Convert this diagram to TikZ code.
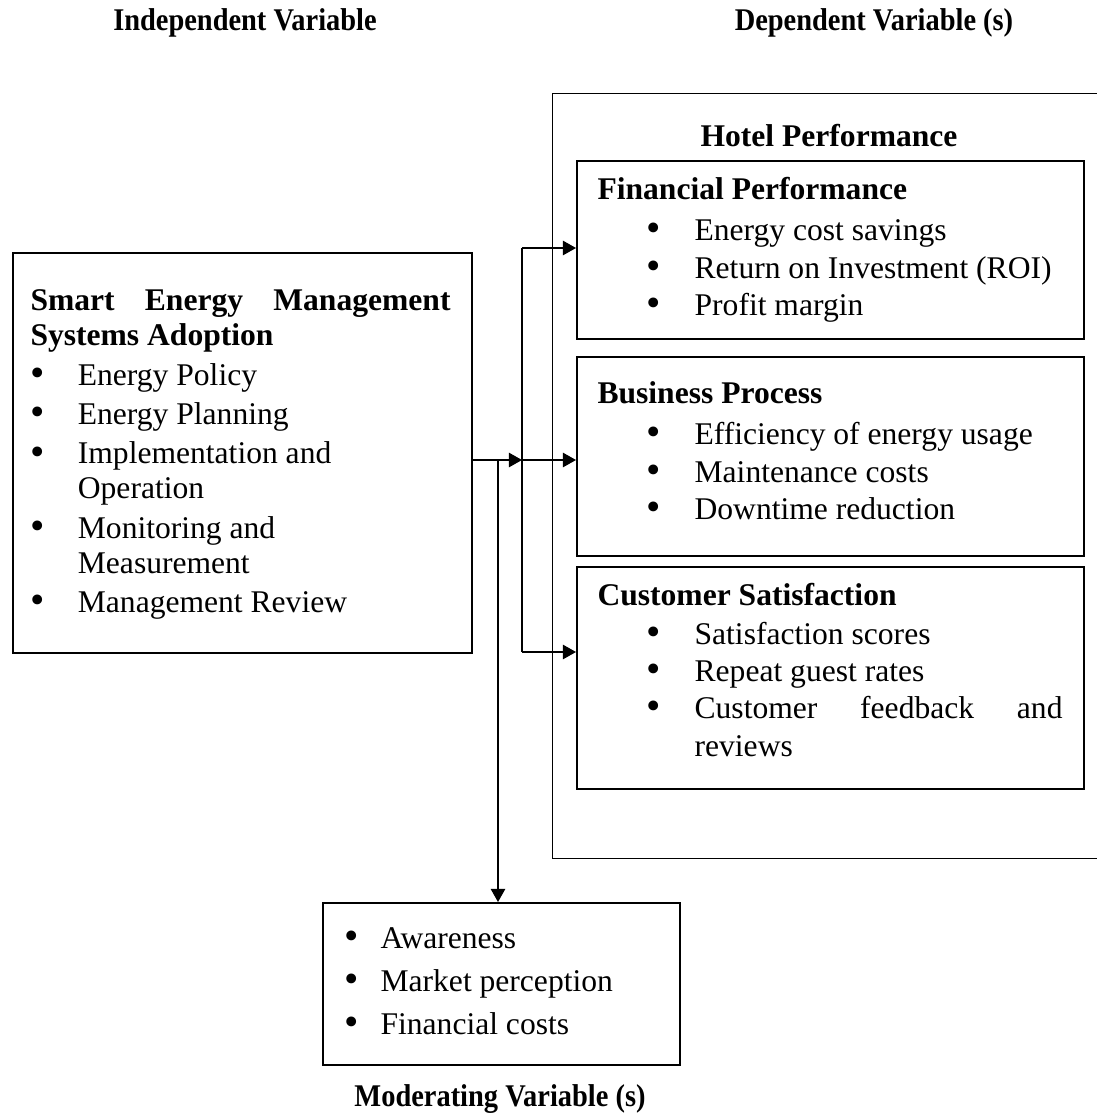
\documentclass[tikz,border=0pt]{standalone}
\usepackage{fontspec}
\setmainfont{Liberation Serif}
\usepackage{graphicx}
\usetikzlibrary{arrows.meta}

\newcommand{\pxu}{0.38pt}
\newcommand{\bul}[1]{\makebox[#1][l]{\raisebox{-0.4pt}[0pt][0pt]{\scalebox{1.3}{\textbullet}}}}

\tikzstyle{box} =[rectangle, draw=black, line width=0.8pt, inner sep=0pt, anchor=north west]
\tikzstyle{frame} =[rectangle, draw=black, line width=0.4pt, inner sep=0pt, anchor=north west]
\tikzstyle{content} =[inner sep=0pt, anchor=north west, font={\fontsize{12}{14.2}\selectfont}]
\tikzstyle{heading} =[inner sep=0pt, anchor=base, font={\fontsize{12}{14.2}\selectfont\bfseries}]
\tikzstyle{arrow} =[line width=0.55pt, -{Triangle[length=5pt, width=5.5pt]}]
\tikzstyle{link} =[line width=0.5pt]

\begin{document}
\begin{tikzpicture}[x=\pxu, y=-\pxu]
\useasboundingbox (0,0) rectangle (1096,1117);

% column headings
\node (indep) [heading] at (245,30) {\scalebox{0.9}[1]{Independent Variable}};
\node (dep) [heading] at (874,30) {\scalebox{0.9}[1]{Dependent Variable (s)}};

% independent variable
\node (sems) [box, minimum width=459*\pxu, minimum height=400*\pxu] at (12,252) {};
\node (sems-txt) [content, font={\fontsize{12}{13.3}\selectfont}] at (30,285.5) {%
\begin{tabular}{@{}l@{}l@{}}
\multicolumn{2}{@{}l@{}}{\makebox[159.6pt][s]{\bfseries Smart Energy Management}}\\
\multicolumn{2}{@{}l@{}}{\bfseries Systems Adoption}\\[1.7pt]
\bul{18pt} & Energy Policy\\[1.7pt]
\bul{18pt} & Energy Planning\\[1.7pt]
\bul{18pt} & Implementation and\\
 & Operation\\[1.7pt]
\bul{18pt} & Monitoring and\\
 & Measurement\\[1.7pt]
\bul{18pt} & Management Review
\end{tabular}};

% dependent variables
\node (hotel) [frame, minimum width=546*\pxu, minimum height=765*\pxu] at (552,93) {};
\node (hotel-title) [heading] at (829,146) {Hotel Performance};

\node (fin) [box, minimum width=507*\pxu, minimum height=178*\pxu] at (576,160) {};
\node (fin-txt) [content] at (597,172.8) {%
\begin{tabular}{@{\hspace{18.5pt}}l@{}l@{}}
\multicolumn{2}{@{}l@{}}{\bfseries Financial Performance}\\[1.5pt]
\bul{18.4pt} & Energy cost savings\\
\bul{18.4pt} & Return on Investment (ROI)\\
\bul{18.4pt} & Profit margin
\end{tabular}};

\node (biz) [box, minimum width=507*\pxu, minimum height=199*\pxu] at (576,356) {};
\node (biz-txt) [content] at (597,376.8) {%
\begin{tabular}{@{\hspace{18.5pt}}l@{}l@{}}
\multicolumn{2}{@{}l@{}}{\bfseries Business Process}\\[1.5pt]
\bul{18.4pt} & Efficiency of energy usage\\
\bul{18.4pt} & Maintenance costs\\
\bul{18.4pt} & Downtime reduction
\end{tabular}};

\node (cust) [box, minimum width=507*\pxu, minimum height=222*\pxu] at (576,566) {};
\node (cust-txt) [content] at (597,578.8) {%
\begin{tabular}{@{\hspace{18.5pt}}l@{}l@{}}
\multicolumn{2}{@{}l@{}}{\bfseries Customer Satisfaction}\\[0.5pt]
\bul{18.4pt} & Satisfaction scores\\
\bul{18.4pt} & Repeat guest rates\\
\bul{18.4pt} & \makebox[139.8pt][s]{Customer feedback and}\\
 & reviews
\end{tabular}};

% moderating variable
\node (mod) [box, minimum width=357*\pxu, minimum height=162*\pxu] at (322,902) {};
\node (mod-txt) [content, font={\fontsize{12}{16.34}\selectfont}] at (344,917.9) {%
\begin{tabular}{@{}l@{}l@{}}
\bul{13.7pt} & Awareness\\
\bul{13.7pt} & Market perception\\
\bul{13.7pt} & Financial costs
\end{tabular}};
\node (mod-title) [heading] at (500,1106) {\scalebox{0.9}[1]{Moderating Variable (s)}};

% connectors
\coordinate (split) at (522,460);
\coordinate (split-top) at (522,248);
\coordinate (split-bot) at (522,652);
\coordinate (drop) at (498,460);
\draw [arrow] (sems.east |- split) -- (split);
\draw [link] (split-top) -- (split-bot);
\draw [arrow] (split-top) -- (fin.west |- split-top);
\draw [arrow] (split) -- (biz.west |- split);
\draw [arrow] (split-bot) -- (cust.west |- split-bot);
\draw [arrow] (drop) -- (mod.north -| drop);
\end{tikzpicture}
\end{document}
